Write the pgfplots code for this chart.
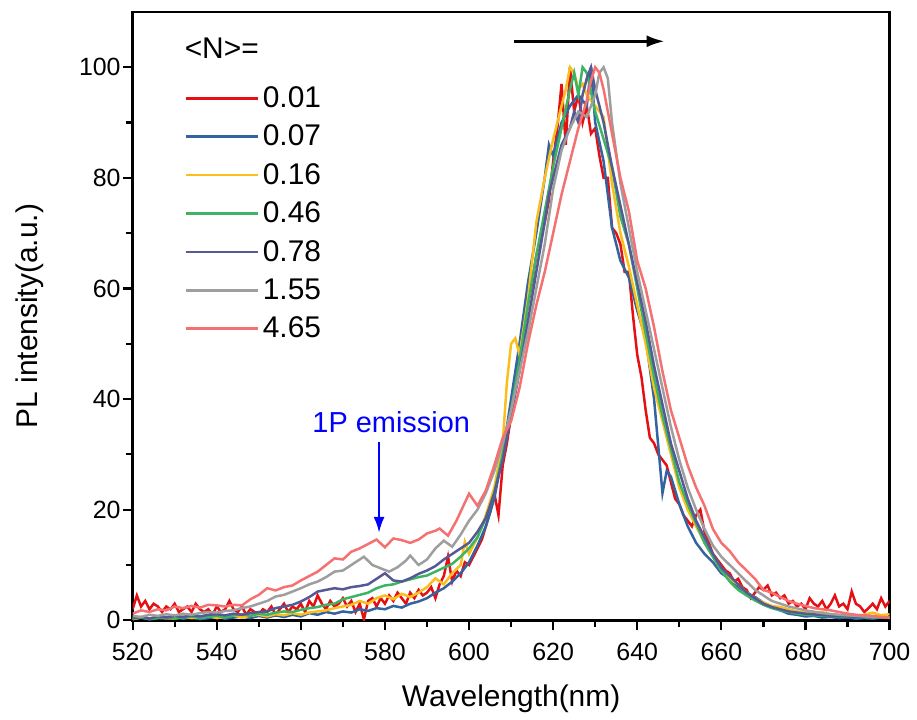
\documentclass[border=0pt]{standalone}
\usepackage{pgfplots}
\pgfplotsset{compat=1.18}
\usepackage{fontspec}
\setmainfont{Liberation Sans}
\usetikzlibrary{arrows.meta}

\definecolor{cRed}{RGB}{228,16,20}
\definecolor{cBlue}{RGB}{52,100,160}
\definecolor{cYel}{RGB}{250,190,30}
\definecolor{cGrn}{RGB}{60,180,100}
\definecolor{cSlt}{RGB}{85,90,150}
\definecolor{cGry}{RGB}{158,158,158}
\definecolor{cPnk}{RGB}{245,112,112}

\begin{document}
\begin{tikzpicture}
\begin{axis}[
    width=379.5pt, height=305pt,
    scale only axis,
    xmin=520, xmax=700,
    ymin=0, ymax=110,
    xtick={520,540,...,700},
    ytick={0,20,...,100},
    minor tick num=1,
    tick align=outside,
    xtick pos=bottom, ytick pos=left,
    major tick length=5pt,
    minor tick length=3.5pt,
    axis line style={line width=1.3pt},
    every tick/.style={black, line width=1.1pt},
    /pgf/number format/assume math mode=true,
    tick label style={font=\fontsize{12.5}{14}\selectfont},
    yticklabel style={xshift=2.5pt},
    xticklabel style={yshift=-3pt},
    label style={font=\fontsize{15}{18}\selectfont},
    xlabel={Wavelength(nm)},
    ylabel={PL intensity(a.u.)},
    xlabel style={yshift=-5pt},
    ylabel style={yshift=11pt},
    legend cell align=left,
    legend style={draw=none, fill=none, at={(0.06,0.8915)}, anchor=north west,
        font=\fontsize{15}{18}\selectfont, row sep=3.3pt,
        /tikz/every even column/.append style={column sep=3pt}},
    legend image code/.code={\draw[#1, line width=1.3pt] (0pt,0pt) -- (36pt,0pt);},
    every axis plot/.append style={line width=1.25pt},
    clip=true
]

% <N> = 0.01
\addplot[cRed] table {
520 2.0
521 4.5
522 2.5
523 3.5
524 2.0
525 3.0
526 2.5
527 1.5
528 2.5
529 2.0
530 3.0
531 1.5
532 2.0
533 2.5
534 1.5
535 3.0
536 2.0
537 1.5
538 2.0
539 1.0
540 2.5
541 1.5
542 2.0
543 3.5
544 2.0
545 1.5
546 2.5
547 1.0
548 2.0
549 1.5
550 1.0
551 2.0
552 1.5
553 2.5
554 1.0
555 2.0
556 3.0
557 1.5
558 2.5
559 2.0
560 3.0
561 1.5
562 3.5
563 2.5
564 4.5
565 3.0
566 2.0
567 3.5
568 2.5
569 3.0
570 4.0
571 2.5
572 3.5
573 1.5
574 3.0
575 0.2
576 3.5
577 4.0
578 2.5
579 4.0
580 3.0
581 4.5
582 3.5
583 5.0
584 4.0
585 3.0
586 5.0
587 4.0
588 5.5
589 4.5
590 5.0
591 6.0
592 4.0
593 6.5
594 8.0
595 11.5
596 7.0
597 9.0
598 8.0
599 10.5
600 10.0
601 11.5
602 13.0
603 14.5
604 17.0
605 19.5
606 23.0
607 19.0
608 28.0
609 32.0
610 37.0
611 42.0
612 48.0
613 52.0
614 57.0
615 61.0
616 66.0
617 69.0
618 72.0
619 76.0
620 83.0
621 89.0
622 97.0
623 86.0
624 100.0
625 92.0
626 95.0
627 90.0
628 93.0
629 88.0
630 89.0
631 84.0
632 80.0
633 80.0
634 71.0
635 70.0
636 68.0
637 63.0
638 63.0
639 55.0
640 48.0
641 44.0
642 38.0
643 33.0
644 32.0
645 30.0
646 29.0
647 28.0
648 25.0
649 22.0
650 21.0
651 19.0
652 18.0
653 17.0
654 19.0
655 20.0
656 16.0
657 14.0
658 12.0
659 11.0
660 10.0
661 9.0
662 8.5
663 7.0
664 7.5
665 6.0
666 5.5
667 4.0
668 5.0
669 6.0
670 5.5
671 6.3
672 4.5
673 5.0
674 4.0
675 4.5
676 3.0
677 3.5
678 2.5
679 3.0
680 2.0
681 4.0
682 3.0
683 2.5
684 3.5
685 2.0
686 3.0
687 4.5
688 2.5
689 3.0
690 2.0
691 5.2
692 3.0
693 2.5
694 1.5
695 2.2
696 3.0
697 2.0
698 4.0
699 2.5
700 3.5
};
\addlegendentry{0.01}

% <N> = 0.07
\addplot[cBlue] table {
520 0.3
522 0.5
524 0.2
526 0.4
528 0.3
530 0.6
532 0.3
534 0.5
536 0.2
538 0.4
540 0.6
542 0.3
544 0.5
546 0.7
548 0.4
550 0.8
552 0.5
554 0.9
556 0.6
558 1.0
560 0.7
562 1.3
564 1.0
566 1.5
568 1.2
570 1.6
572 1.4
574 2.0
576 1.7
578 2.2
580 2.0
582 2.6
584 2.3
586 3.0
588 3.4
590 4.0
592 5.0
594 5.8
596 7.0
598 8.5
600 10.5
602 13.5
604 17.0
606 22.0
608 30.0
610 40.0
612 50.0
614 61.0
616 70.0
618 80.0
619 86.0
620 84.0
622 90.0
624 93.0
626 95.0
628 93.0
629 100.0
630 90.0
632 83.0
634 71.0
636 65.0
638 62.0
640 56.0
642 51.0
644 40.0
646 23.0
647 27.0
648 26.0
650 21.0
652 17.0
654 14.0
656 12.0
658 10.5
660 8.5
662 7.5
664 6.0
666 5.0
668 4.2
670 3.2
672 2.5
674 1.8
676 1.2
678 1.0
680 0.7
682 0.8
684 0.5
686 0.6
688 0.4
690 0.5
692 0.3
694 0.4
696 0.3
698 0.5
700 0.4
};
\addlegendentry{0.07}

% <N> = 0.16
\addplot[cYel] table {
520 0.2
522 0.5
524 0.3
526 0.6
528 0.4
530 0.3
532 0.7
534 0.4
536 0.5
538 0.8
540 0.4
542 0.6
544 0.9
546 0.5
548 0.8
550 1.0
552 0.7
554 1.1
556 0.9
558 1.3
560 1.0
562 1.4
564 1.6
566 1.8
568 2.2
570 2.5
572 2.8
574 3.5
576 3.0
578 4.0
580 4.5
582 3.8
584 4.8
586 4.2
588 5.0
590 6.0
592 7.6
594 6.5
596 8.5
598 10.0
599 14.2
600 12.0
602 15.0
604 19.0
606 24.0
608 32.0
609 43.0
610 50.0
611 51.0
612 48.0
614 58.0
616 72.0
618 80.0
620 87.0
622 93.0
623 96.0
624 100.0
625 99.0
626 96.0
627 97.0
628 95.0
630 93.0
632 91.0
634 79.0
636 70.0
638 64.0
640 57.0
642 50.0
644 42.0
646 36.0
648 30.0
650 24.0
652 20.0
654 17.0
656 14.0
658 11.5
660 9.0
662 7.5
664 6.5
666 5.0
668 4.0
670 3.2
672 2.6
674 2.4
676 2.0
678 1.6
680 1.5
682 1.3
684 1.5
686 1.0
688 0.9
690 1.2
692 0.8
694 1.0
696 1.4
698 0.9
700 1.1
};
\addlegendentry{0.16}

% <N> = 0.46
\addplot[cGrn] table {
520 0.3
522 0.5
524 0.2
526 0.4
528 0.6
530 0.3
532 0.5
534 0.7
536 0.4
538 0.6
540 0.8
542 0.5
544 0.9
546 1.1
548 0.8
550 1.2
552 1.0
554 1.4
556 1.6
558 1.5
560 1.9
562 2.2
564 2.4
566 2.8
568 3.0
570 3.8
572 4.2
574 4.6
576 5.0
578 5.8
580 6.3
582 6.5
584 7.0
586 7.4
588 7.8
590 8.1
592 8.8
594 9.5
596 10.2
598 11.5
600 13.0
602 15.0
604 18.5
606 23.0
608 30.0
610 38.0
612 47.0
614 57.0
616 66.0
618 74.0
620 82.0
622 89.0
624 96.0
625 99.0
626 95.0
627 100.0
628 99.0
630 92.0
632 87.0
634 82.0
636 73.0
638 68.0
640 60.0
642 52.0
644 44.0
646 37.0
648 31.0
650 25.0
652 21.0
654 17.5
656 14.0
658 11.5
660 9.0
662 7.0
664 5.5
666 4.5
668 3.6
670 2.8
672 2.2
674 1.8
676 1.5
678 1.2
680 1.0
684 0.8
688 0.7
692 0.6
696 0.5
700 0.5
};
\addlegendentry{0.46}

% <N> = 0.78
\addplot[cSlt] table {
520 0.4
522 0.6
524 0.3
526 0.7
528 0.5
530 0.8
532 0.6
534 0.9
536 0.7
538 1.0
540 1.1
542 0.9
544 1.2
546 1.0
548 1.3
550 1.5
552 1.6
554 2.2
556 2.5
558 2.8
560 3.4
562 4.2
564 5.2
566 5.5
568 5.8
570 5.6
572 6.0
574 6.2
576 6.5
578 7.5
580 8.5
582 7.2
584 7.0
586 7.6
588 8.4
590 9.0
592 9.8
594 11.0
596 12.0
598 13.0
600 14.0
602 16.0
604 18.5
606 23.0
608 29.0
610 37.0
612 45.0
614 54.0
616 63.0
618 72.0
619 77.0
620 80.0
622 86.0
624 89.0
625 92.0
626 90.0
627 95.0
628 98.0
629 100.0
630 96.0
632 90.0
634 82.0
636 75.0
638 68.0
640 61.0
642 54.0
644 46.0
646 39.0
648 32.0
650 27.0
652 22.0
654 18.0
656 15.0
658 12.0
660 9.5
662 8.0
664 6.5
666 5.0
668 4.0
670 3.0
672 2.4
676 1.6
680 1.2
685 0.9
690 0.7
695 0.6
700 0.5
};
\addlegendentry{0.78}

% <N> = 1.55
\addplot[cGry] table {
520 0.8
522 0.6
524 1.0
526 0.8
528 1.1
530 0.9
532 1.2
534 1.0
536 1.3
538 1.5
540 1.4
542 1.7
544 1.8
546 2.2
548 2.5
550 3.0
552 3.5
554 4.3
556 4.6
558 5.2
560 5.8
562 6.5
564 7.0
566 7.8
568 8.8
570 9.0
572 10.0
574 11.0
575 11.5
577 10.0
579 9.4
581 8.8
583 9.6
585 10.8
586 11.7
588 10.0
590 11.0
592 13.0
594 14.4
596 13.3
598 15.5
600 18.0
602 20.0
604 23.0
606 27.0
608 32.0
610 38.0
612 45.0
614 52.0
616 60.0
618 68.0
620 78.0
622 85.0
624 89.0
626 92.0
628 91.0
630 95.0
631 99.0
632 100.0
633 98.0
634 90.0
636 79.0
638 71.0
640 63.0
642 56.0
644 49.0
646 42.0
648 35.0
650 29.0
652 24.0
654 20.0
656 16.5
658 13.5
660 11.5
662 10.0
664 8.5
666 7.0
668 5.5
670 4.5
672 3.5
674 3.0
676 2.5
680 1.8
684 1.3
688 1.0
692 0.8
696 0.6
700 0.5
};
\addlegendentry{1.55}

% <N> = 4.65
\addplot[cPnk] table {
520 1.2
522 1.8
524 1.5
526 2.0
528 1.8
530 2.5
532 2.2
534 2.6
536 2.3
538 2.8
540 2.7
542 2.5
544 2.8
546 2.7
548 3.8
550 4.6
552 5.8
554 5.4
556 6.0
558 6.3
560 7.2
562 8.0
564 8.8
566 10.0
568 11.2
570 11.0
572 12.4
574 13.0
576 13.8
578 14.6
580 13.2
582 14.8
584 14.5
586 14.0
588 14.6
590 15.7
592 16.2
593 16.6
595 15.3
597 18.0
600 22.9
602 20.7
604 23.5
606 28.0
608 33.0
610 36.0
612 42.0
614 50.0
616 57.0
618 63.0
620 70.0
622 77.0
624 83.0
626 89.0
628 94.0
629 97.6
630 100.0
631 99.0
632 96.0
634 88.0
636 80.0
638 74.0
640 65.0
642 60.0
644 53.0
646 45.0
648 38.0
650 33.0
652 28.0
654 24.0
656 20.7
658 16.5
660 14.0
662 12.5
664 10.5
666 9.0
668 7.5
670 5.5
672 5.0
674 4.2
676 3.5
678 3.0
680 2.6
682 2.2
684 2.0
686 1.8
688 1.5
690 1.2
692 1.0
694 0.9
696 0.8
698 0.6
700 0.5
};
\addlegendentry{4.65}

% legend title
\node[anchor=west, inner sep=0pt, font=\fontsize{15}{18}\selectfont]
    at (axis cs:532.3,103.4) {<N>=};

% shift arrow
\draw[-{Latex[length=9pt,width=6pt]}, line width=1.4pt]
    (axis cs:610.6,104.7) -- (axis cs:646.5,104.7);

% 1P emission label
\node[text=blue, font=\fontsize{14.5}{17}\selectfont, inner sep=0pt]
    at (axis cs:581.5,35.8) {1P emission};
\draw[blue, -{Latex[length=8pt,width=5.5pt]}, line width=1.2pt]
    (axis cs:578.6,32.3) -- (axis cs:578.6,15.8);

\coordinate (bl) at (rel axis cs:0,0);
\coordinate (tl) at (rel axis cs:0,1);

\end{axis}
% white space round the frame
\path (bl) ++(-66.5pt,0);
\path (tl) ++(0,6pt);
\end{tikzpicture}
\end{document}
